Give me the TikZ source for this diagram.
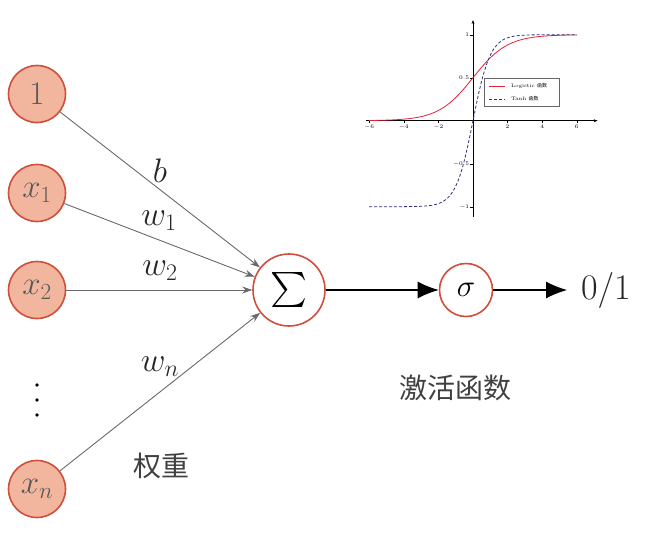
\RequirePackage{fix-cm}
\documentclass[tikz,border=0pt]{standalone}
\usepackage{graphicx}
\usepackage{fontspec}
\newfontfamily\cjk{Noto Sans CJK SC}
\usetikzlibrary{arrows.meta}
\definecolor{nodefill}{RGB}{242,182,158}
\definecolor{nodeline}{RGB}{208,78,58}
\definecolor{edgegray}{RGB}{105,105,105}
\definecolor{logred}{RGB}{225,35,55}
\definecolor{tanhblue}{RGB}{45,45,120}
\begin{document}
\begin{tikzpicture}[x=1pt,y=-1pt,
  inp/.style={circle, draw=nodeline, line width=1.6pt, fill=nodefill, minimum size=57pt, inner sep=0pt, font=\fontsize{33}{36}\selectfont, text=black!65},
  opnode/.style={circle, draw=nodeline, line width=1.6pt, fill=white, inner sep=0pt},
  wedge/.style={draw=edgegray, line width=0.9pt, -{Stealth[length=10pt,width=7pt]}},
  mainarrow/.style={draw=black, line width=1.1pt, -{Latex[length=21pt,width=17pt]}},
  wlabel/.style={font=\fontsize{34}{38}\selectfont, text=black!85},
  cjklabel/.style={font=\cjk\fontsize{28}{32}\selectfont, text=black!75},
  tick/.style={font=\fontsize{5.5}{6.5}\selectfont, inner sep=1pt},
  legtext/.style={font=\fontsize{5}{6}\selectfont, inner sep=0pt, anchor=west}
]
\useasboundingbox (0,0) rectangle (664,539);

% input nodes
\node[inp] (n1) at (37,94) {$1$};
\node[inp] (nx1) at (37,193) {$x_1$};
\node[inp] (nx2) at (37,290) {$x_2$};
\node[inp] (nxn) at (37,489) {$x_n$};
\fill (37,385) circle (1.8pt) (37,400) circle (1.8pt) (37,415) circle (1.8pt);

% operation nodes
\node[opnode, minimum size=72pt] (sum) at (289,290) {\scalebox{3.5}{$\textstyle\sum$}};
\node[opnode, minimum size=53pt, font=\fontsize{31}{34}\selectfont] (sig) at (466,290) {$\sigma$};
\node[inner sep=2pt, font=\fontsize{36}{40}\selectfont, text=black!85] (out) at (606,290) {$0/1$};

% edges
\draw[wedge] (n1) -- (sum);
\draw[wedge] (nx1) -- (sum);
\draw[wedge] (nx2) -- (sum);
\draw[wedge] (nxn) -- (sum);
\draw[mainarrow] (sum) -- (sig);
\draw[mainarrow, shorten >=12pt] (sig) -- (out);

% labels
\node[wlabel] (lb) at (160,171) {$b$};
\node[wlabel] (lw1) at (159,221) {$w_1$};
\node[wlabel] (lw2) at (160,271) {$w_2$};
\node[wlabel] (lwn) at (160,367) {$w_n$};
\node[cjklabel] (lq) at (161,466) {权重};
\node[cjklabel] (lj) at (455,388) {激活函数};

% inset plot
\begin{scope}[shift={(473,120.7)}, x=17.3pt, y=86pt]
  \draw[line width=0.5pt, -{Stealth[length=4pt,width=3pt]}] (-6.2,0) -- (7.2,0);
  \draw[line width=0.5pt, -{Stealth[length=4pt,width=3pt]}] (0,-1.12) -- (0,1.17);
  \foreach \t in {-6,-4,-2,2,4,6} {
    \draw[line width=0.4pt] (\t,0) -- (\t,-0.03);
    \node[tick, anchor=north] (xt\t) at (\t,-0.03) {$\t$};
  }
  \foreach \t/\l in {1/1,0.5/0.5,-0.5/-0.5,-1/-1} {
    \draw[line width=0.4pt] (0,\t) -- (-0.15,\t);
    \node[tick, anchor=east] (yt\l) at (-0.15,\t) {$\l$};
  }
  \draw[logred, line width=0.8pt] plot[domain=-6:6, samples=120, smooth] (\x,{1/(1+exp(-\x))});
  \draw[tanhblue, line width=0.8pt, dash pattern=on 3pt off 2pt] plot[domain=-6:6, samples=120, smooth] (\x,{tanh(\x)});
\end{scope}

% legend
\node[draw=black!60, line width=0.5pt, minimum width=75pt, minimum height=28pt, inner sep=0pt, fill=white] (leg) at (521.5,92) {};
\draw[logred, line width=0.8pt] (489,86) -- (505,86);
\node[legtext] (lg1) at (511,86) {Logistic {\cjk 函数}};
\draw[tanhblue, line width=0.8pt, dash pattern=on 3pt off 2pt] (489,99) -- (505,99);
\node[legtext] (lg2) at (511,99) {Tanh {\cjk 函数}};
\end{tikzpicture}
\end{document}
